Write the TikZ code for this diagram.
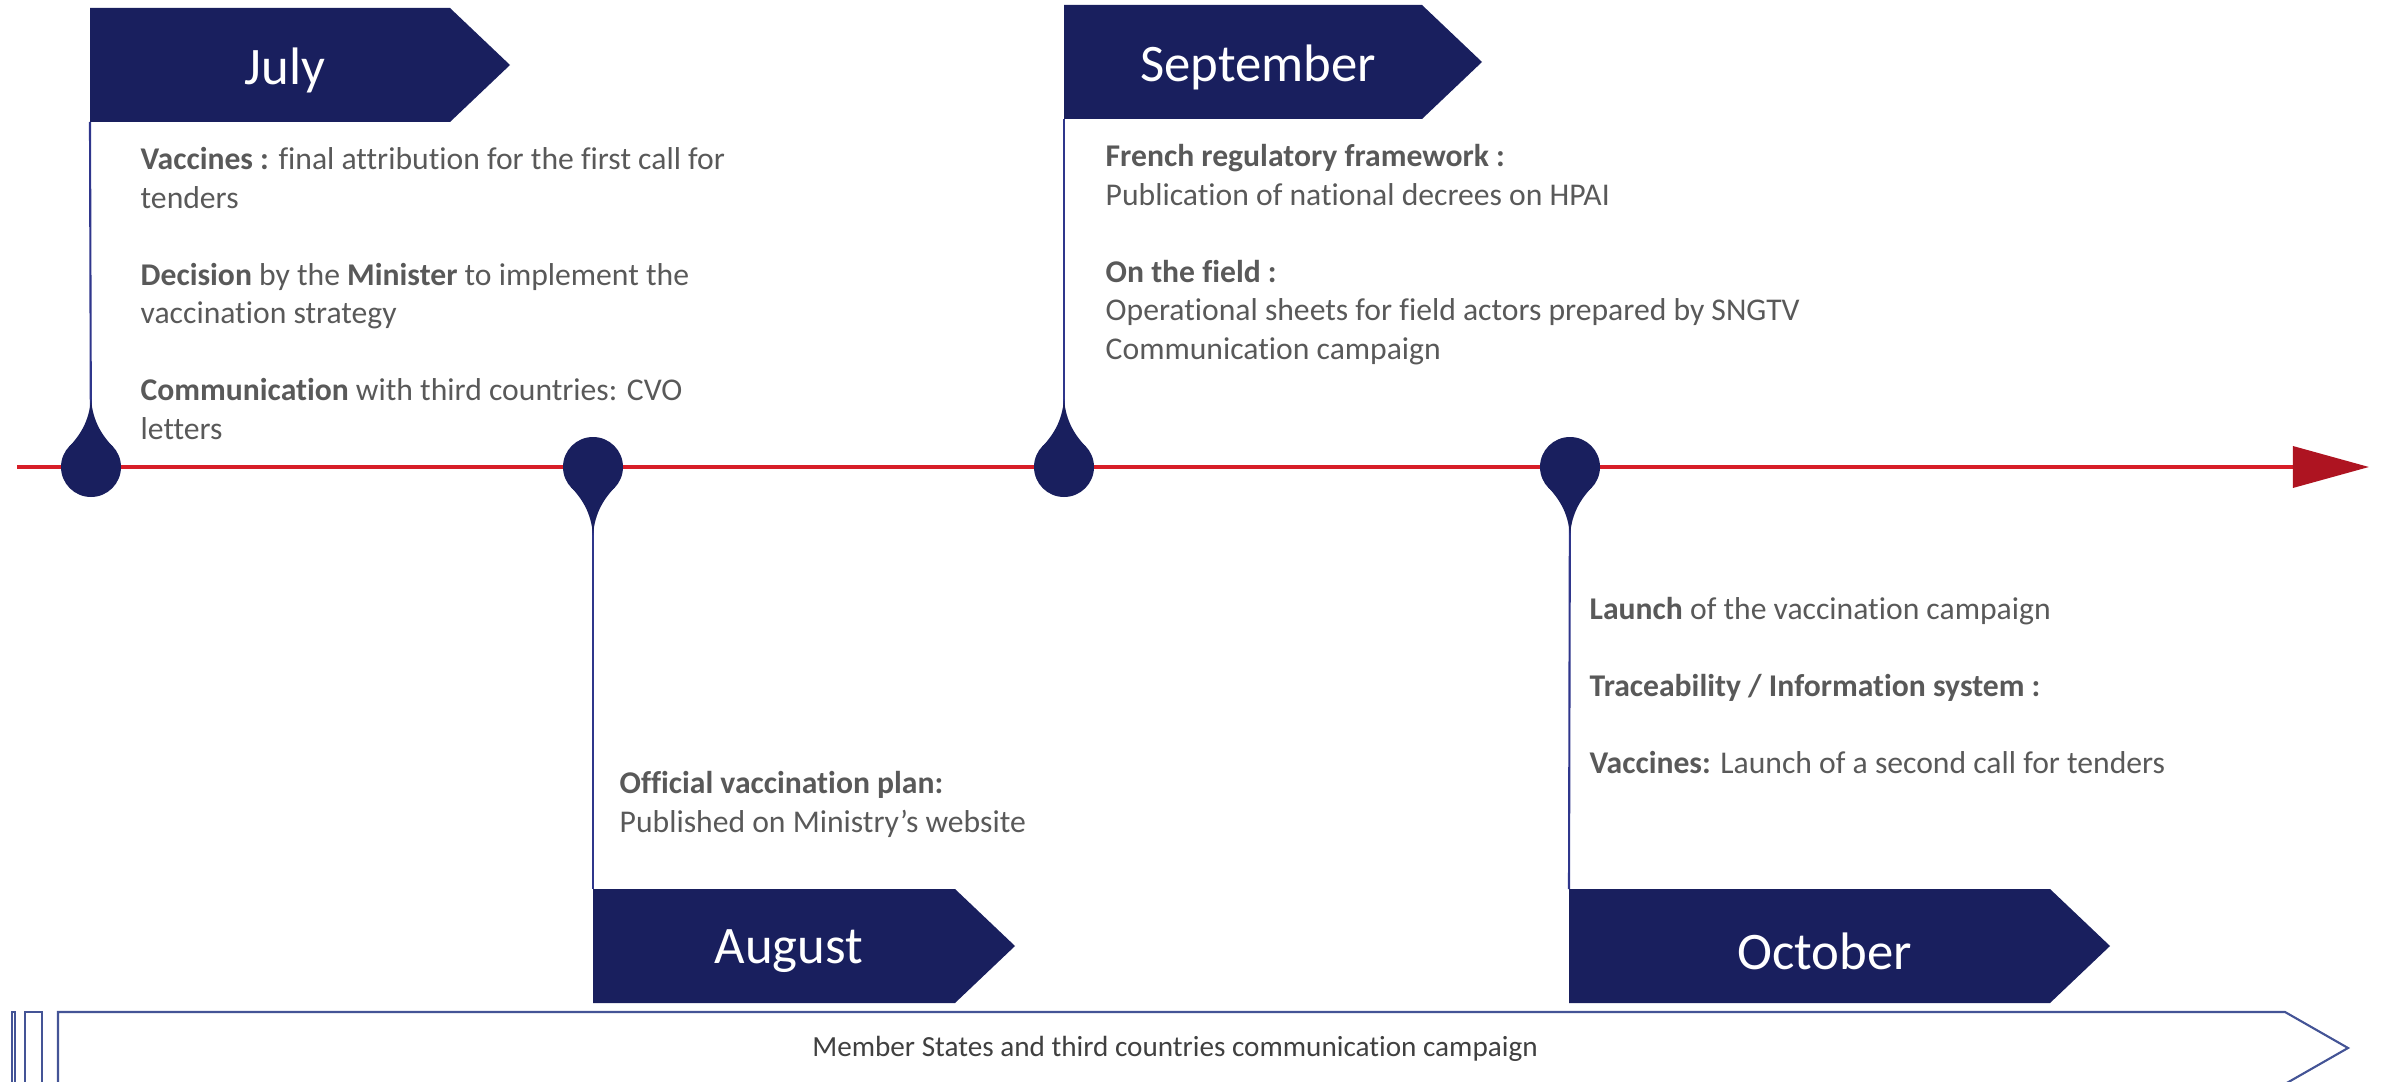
\documentclass[tikz,border=0pt]{standalone}
\usepackage{fontspec}
\setmainfont{Carlito}[Ligatures=NoCommon]
\usetikzlibrary{arrows.meta}
\definecolor{navy}{RGB}{25,31,94}
\definecolor{stemblue}{RGB}{47,54,140}
\definecolor{linered}{RGB}{215,30,40}
\definecolor{headred}{RGB}{174,20,33}
\definecolor{bodygrey}{RGB}{89,89,89}
\definecolor{baredge}{RGB}{68,84,150}
\tikzset{month/.style={text=white, inner sep=0pt, font=\fontsize{15}{18}\selectfont},
  body/.style={text=bodygrey, inner sep=0pt, align=left, anchor=north west,
    font=\fontsize{9}{10.95}\selectfont},
  stem/.style={draw=stemblue, line width=0.6pt}}
% drop pin on the time line: #1 = centre, #2 = 1 (tail down) or -1 (tail up)
\newcommand{\droppin}[2]{%
  \begin{scope}[shift={(#1)}, yscale=#2]
    \fill[navy] (0,0) circle (30);
    \fill[navy] (-22,20) .. controls (-11,32) and (-2,45) .. (0,68)
      .. controls (2,45) and (11,32) .. (22,20) -- cycle;
  \end{scope}}
% month flag: #1 = name, #2 = left x, #3 = top y, #4 = width, #5 = text
\newcommand{\monthflag}[5]{%
  \fill[navy] (#2,#3) -- ++(#4,0) -- ++(60,57) -- ++(-60,57) -- ++(-#4,0) -- cycle;
  \node[month] (#1) at (#2+#4/2+15,#3+62) {#5};}

\begin{document}
\begin{tikzpicture}[x=0.01cm, y=-0.01cm]
  \useasboundingbox (0,0) rectangle (2384,1082);
  % time line
  \coordinate (tlS) at (17,467);
  \coordinate (tlE) at (2369,467);
  \draw[linered, line width=0.95pt, -{Triangle[length=0.76cm, width=0.41cm, color=headred]}] (tlS) -- (tlE);

  \coordinate (julP) at (91,467);
  \coordinate (augP) at (593,467);
  \coordinate (sepP) at (1064,467);
  \coordinate (octP) at (1570,467);

  \monthflag{jul}{90}{8}{360}{July}
  \monthflag{sep}{1064}{5}{358}{September}
  \monthflag{aug}{593}{889}{362}{August}
  \monthflag{oct}{1569}{889}{481}{October}

  \coordinate (julF) at (90,122);
  \coordinate (sepF) at (1064,119);
  \coordinate (augF) at (593,889);
  \coordinate (octF) at (1569,889);

  \draw[stem] (julP) -- (julF);
  \draw[stem] (sepP) -- (sepF);
  \draw[stem] (augP) -- (augF);
  \draw[stem] (octP) -- (octF);

  \droppin{julP}{-1}
  \droppin{augP}{1}
  \droppin{sepP}{-1}
  \droppin{octP}{1}

  % texts
  \node[body] (julT) at (140,142) {\strut\textbf{Vaccines :} final attribution for the first call for\\
    tenders\\[10.95pt]
    \textbf{Decision} by the \textbf{Minister} to implement the\\
    vaccination strategy\\[10.95pt]
    \textbf{Communication} with third countries: CVO\\
    letters};
  \node[body] (augT) at (619,766) {\strut\textbf{Official vaccination plan:}\\
    Published on Ministry’s website};
  \node[body] (sepT) at (1105,139) {\strut\textbf{French regulatory framework :}\\
    Publication of national decrees on HPAI\\[10.95pt]
    \textbf{On the field :}\\
    Operational sheets for field actors prepared by SNGTV\\
    Communication campaign};
  \node[body] (octT) at (1589,592) {\strut\textbf{Launch} of the vaccination campaign\\[10.95pt]
    \textbf{Traceability / Information system :}\\[10.95pt]
    \textbf{Vaccines:} Launch of a second call for tenders};

  % campaign bar
  \draw[baredge, line width=0.6pt] (12,1012) rectangle (15,1090);
  \draw[baredge, line width=0.6pt] (25,1012) rectangle (42,1090);
  \draw[baredge, line width=0.6pt, fill=white] (58,1012) -- (2285,1012) -- (2348,1048)
    -- (2285,1084) -- (58,1084) -- cycle;
  \node[text=black!75, inner sep=0pt, font=\fontsize{8.3}{10}\selectfont] (barT) at (1175,1049)
    {Member States and third countries communication campaign};
\end{tikzpicture}
\end{document}
